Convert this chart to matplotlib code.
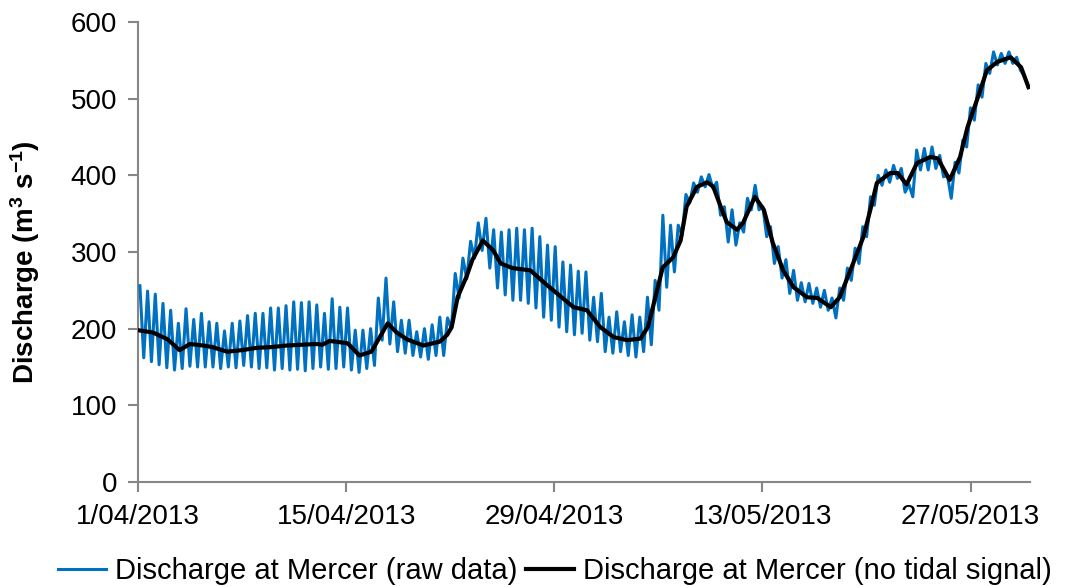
import numpy as np
import matplotlib
matplotlib.use("Agg")
import matplotlib.pyplot as plt

plt.rcParams['font.family'] = ['Liberation Sans', 'DejaVu Sans']
plt.rcParams['mathtext.default'] = 'regular'

# raw discharge: tidal highs and lows, one pair per tidal cycle (m3/s)
raw_peaks = [256, 249, 245, 233, 224, 207, 226, 212, 220, 209, 207, 197, 207, 210, 217,
             220, 220, 227, 227, 230, 235, 234, 235, 231, 220, 239, 228, 227, 198,
             198, 200, 240, 266, 235, 211, 211, 196, 200, 205, 215, 214, 272, 292, 314,
             338, 344, 329, 326, 329, 331, 329, 331, 320, 309, 307, 287, 283, 275,
             274, 241, 246, 215, 222, 209, 218, 215, 241, 263, 348, 335, 335, 375,
             390, 398, 401, 391, 359, 355, 338, 370, 387, 359, 333, 307, 290, 276, 260,
             259, 253, 250, 240, 253, 279, 305, 333, 372, 400, 407, 413, 409,
             388, 433, 435, 437, 426, 400, 417, 446, 488, 518, 546, 561, 559, 561, 554, 530]
raw_troughs = [162, 157, 153, 149, 146, 148, 151, 150, 150, 150, 148, 150, 149, 152,
               150, 148, 149, 146, 148, 146, 147, 145, 148, 150, 147, 148, 150, 146, 143,
               148, 152, 185, 180, 170, 168, 165, 163, 160, 165, 165, 200, 240, 265,
               292, 302, 279, 253, 244, 237, 237, 233, 227, 215, 211, 202, 196, 192,
               194, 185, 183, 170, 168, 170, 165, 163, 170, 179, 224, 254, 274, 322, 364,
               378, 385, 383, 348, 313, 309, 326, 355, 355, 320, 285, 266, 246, 237,
               235, 233, 228, 224, 214, 237, 263, 285, 320, 361, 387, 391, 396, 378,
               372, 407, 407, 409, 398, 370, 403, 437, 472, 502, 533, 544, 546, 546, 537, 515]
first_peak_day = 0.13
tide_period = 0.5173  # days

# filtered discharge (no tidal signal), day since 1/04/2013 -> m3/s
smooth_day = [0, 1.0, 2.0, 2.8, 3.5, 4.4, 5.0, 6.0, 7.0, 8.0, 9.0, 10.0, 11.0, 12.0, 12.4, 12.9,
              14.1, 14.9, 15.7, 16.8, 17.4, 18.1, 19.2, 20.3, 20.8, 21.1, 21.5, 22.1, 22.5, 23.2,
              23.9, 24.4, 25.2, 26.4, 27.5, 29.3, 30.2, 31.1, 32.0, 32.9, 33.8, 34.3, 35.3, 36.0,
              36.5, 36.9, 37.6, 38.3, 38.7, 39.2, 39.6, 40.3, 40.7, 41.5, 42.1, 42.7, 43.4, 44.1,
              45.0, 45.7, 46.6, 47.2, 48.1, 48.8, 49.3, 49.7, 50.6, 51.1, 51.7, 52.4, 53.3, 53.8,
              54.6, 55.3, 55.8, 56.5, 57.1, 57.8, 58.7, 59.4, 59.9]
smooth_val = [198, 195, 186, 172, 180, 178, 176, 170, 172, 175, 176, 178, 179, 180, 179, 184,
              181, 165, 170, 207, 195, 186, 178, 183, 192, 202, 241, 268, 290, 315,
              302, 285, 279, 276, 257, 228, 224, 202, 189, 185, 187, 202, 280, 293,
              315, 359, 385, 391, 385, 359, 339, 329, 338, 372, 355, 312, 276, 254,
              241, 240, 228, 241, 285, 320, 358, 390, 403, 403, 388, 416, 424, 422,
              394, 424, 463, 502, 537, 548, 554, 541, 515]

tick_days = [0, 14, 28, 42, 56]
tick_labels = ["1/04/2013", "15/04/2013", "29/04/2013", "13/05/2013", "27/05/2013"]

# interleave highs and lows on the tidal time grid
n = len(raw_peaks)
peak_t = first_peak_day + tide_period * np.arange(n)
raw_t = np.empty(2 * n)
raw_v = np.empty(2 * n)
raw_t[0::2] = peak_t
raw_t[1::2] = peak_t + tide_period / 2
raw_v[0::2] = raw_peaks
raw_v[1::2] = raw_troughs

fsize = 20
axcol = "#868686"

fig = plt.figure(figsize=(10.67, 5.87), dpi=100)
ax = fig.add_axes([0.1293, 0.1789, 0.836, 0.7836])

raw_line, = ax.plot(raw_t, raw_v, color="#0070C0", linewidth=2.2, zorder=3)
smooth_line, = ax.plot(smooth_day, smooth_val, color="black", linewidth=3.0, zorder=4)

ax.set_xlim(0, 60)
ax.set_ylim(0, 600)
ax.set_yticks(range(0, 601, 100))
ax.set_xticks(tick_days)
ax.set_xticklabels(tick_labels)

for s in ["top", "right"]:
    ax.spines[s].set_visible(False)
for s in ["left", "bottom"]:
    ax.spines[s].set_color(axcol)
    ax.spines[s].set_linewidth(1.5)
ax.tick_params(axis='both', direction='out', length=7, width=1.5, color=axcol,
               labelsize=fsize, labelcolor="black")
ax.tick_params(axis='x', pad=9)
ax.tick_params(axis='y', pad=8)

ax.set_ylabel(r"Discharge (m$^{3}$ s$^{-1}$)", fontsize=fsize, fontweight="bold")
ax.yaxis.set_label_coords(-0.108, 0.478)

fig.legend(handles=[raw_line, smooth_line],
           labels=["Discharge at Mercer (raw data)", "Discharge at Mercer (no tidal signal)"],
           loc="center", bbox_to_anchor=(0.52, 0.027), ncol=2, frameon=False,
           fontsize=21, handlelength=1.65, handletextpad=0.3, columnspacing=0.3)

plt.savefig("out.png", dpi=100)
